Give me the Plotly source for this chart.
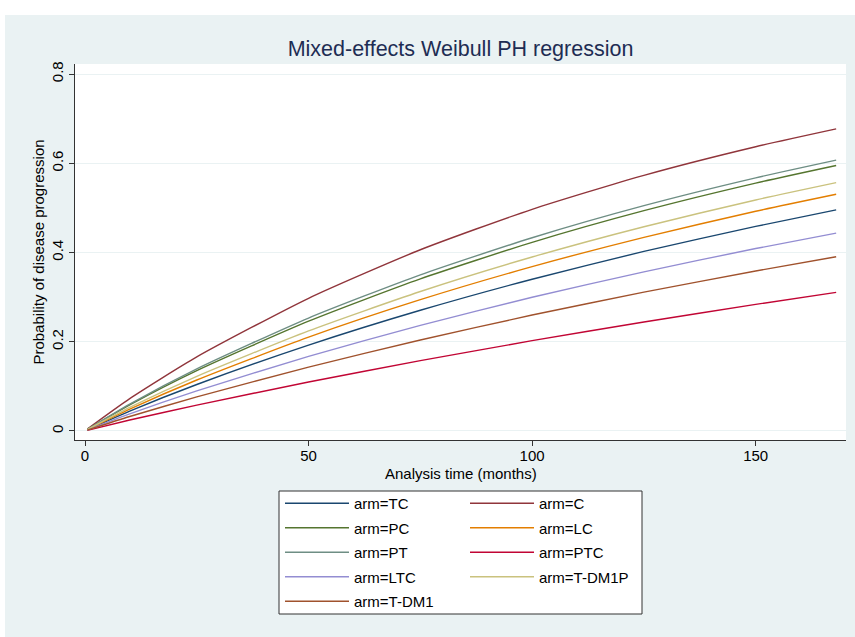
import plotly.graph_objects as go

# Analysis time (months) at which curve values were read
times = [0.5, 10, 25, 50, 75, 100, 125, 150, 168]

# Probability of disease progression, read per arm
arm_TC = [0.0026, 0.0446, 0.1041, 0.1924, 0.2705, 0.3401, 0.4025, 0.4585, 0.4954]
arm_C = [0.0042, 0.0725, 0.1660, 0.2974, 0.4061, 0.4968, 0.5729, 0.6370, 0.6770]
arm_PC = [0.0034, 0.0584, 0.1352, 0.2460, 0.3408, 0.4227, 0.4937, 0.5555, 0.5950]
arm_LC = [0.0028, 0.0491, 0.1143, 0.2104, 0.2943, 0.3683, 0.4340, 0.4924, 0.5305]
arm_PT = [0.0035, 0.0603, 0.1393, 0.2531, 0.3499, 0.4331, 0.5050, 0.5673, 0.6070]
arm_PTC = [0.0014, 0.0245, 0.0580, 0.1097, 0.1576, 0.2024, 0.2443, 0.2837, 0.3107]
arm_LTC = [0.0022, 0.0383, 0.0898, 0.1673, 0.2368, 0.2996, 0.3567, 0.4088, 0.4434]
arm_TDM1P = [0.0030, 0.0527, 0.1224, 0.2243, 0.3126, 0.3899, 0.4578, 0.5177, 0.5565]
arm_TDM1 = [0.0019, 0.0325, 0.0764, 0.1432, 0.2040, 0.2598, 0.3111, 0.3585, 0.3904]

arm_names = ["arm=TC", "arm=C", "arm=PC", "arm=LC", "arm=PT", "arm=PTC",
             "arm=LTC", "arm=T-DM1P", "arm=T-DM1"]
arm_values = [arm_TC, arm_C, arm_PC, arm_LC, arm_PT, arm_PTC, arm_LTC, arm_TDM1P, arm_TDM1]
arm_colors = ["#1a476f", "#90353b", "#55752f", "#e37e00", "#6e8e84", "#c10534",
              "#938dd2", "#cac27e", "#a0522d"]

x_ticks = [0, 50, 100, 150]
y_ticks = [0, 0.2, 0.4, 0.6, 0.8]
y_ticklabels = ["0", "0.2", "0.4", "0.6", "0.8"]

FONT = "Liberation Sans, Arial, sans-serif"
BG = "#EAF2F3"

fig = go.Figure()
for i, (name, vals, col) in enumerate(zip(arm_names, arm_values, arm_colors)):
    fig.add_trace(go.Scatter(
        x=times, y=vals, mode="lines", name=name,
        line=dict(color=col, width=1.4, shape="spline", smoothing=0.6),
        legend="legend" if i % 2 == 0 else "legend2",
        legendgroup=name, showlegend=True,
    ))

W, H = 855, 637
L, R, T, B = 75, 9, 64, 197
pw, ph = W - L - R, H - T - B


def px(xp):
    return (xp - L) / pw


def py(yp):
    return (H - B - yp) / ph


legend_common = dict(
    orientation="v", xanchor="left", yanchor="top",
    bgcolor="rgba(0,0,0,0)", borderwidth=0,
    font=dict(family=FONT, size=15, color="#000000"),
    itemwidth=64, tracegroupgap=2, traceorder="grouped",
)

fig.update_layout(
    width=W, height=H,
    margin=dict(l=L, r=R, t=T, b=B),
    paper_bgcolor=BG, plot_bgcolor="#FFFFFF",
    title=dict(text="Mixed-effects Weibull PH regression", xref="paper", x=0.5,
               xanchor="center", y=1 - 48 / H, yanchor="middle",
               font=dict(family=FONT, size=21.5, color="#1e2d53")),
    xaxis=dict(range=[-2.24, 170.2], tickvals=x_ticks, ticks="outside", ticklen=5,
               tickcolor="#333333", showline=True, linecolor="#333333", linewidth=1,
               showgrid=False, zeroline=False, ticklabelstandoff=-3,
               tickfont=dict(family=FONT, size=15, color="#000000")),
    yaxis=dict(range=[-0.0202, 0.8224], tickvals=y_ticks, ticktext=y_ticklabels,
               tickangle=-90, ticks="outside", ticklen=5,
               tickcolor="#333333", showline=True, linecolor="#333333", linewidth=1,
               showgrid=True, gridcolor=BG, gridwidth=1, zeroline=False,
               tickfont=dict(family=FONT, size=15, color="#000000"),
               title=dict(text="Probability of disease progression", standoff=0,
                          font=dict(family=FONT, size=15, color="#000000"))),
    annotations=[
        dict(text="Analysis time (months)", xref="paper", yref="paper",
             x=0.5, y=py(473), xanchor="center", yanchor="middle", showarrow=False,
             font=dict(family=FONT, size=15, color="#000000")),
    ],
    legend=dict(x=px(280), y=py(487), **legend_common),
    legend2=dict(x=px(465), y=py(487), **legend_common),
    shapes=[
        dict(type="rect", xref="paper", yref="paper", x0=px(279), x1=px(642),
             y0=py(614), y1=py(491), line=dict(color="#333333", width=1),
             fillcolor="#FFFFFF", layer="below"),
        dict(type="rect", xref="paper", yref="paper", x0=px(0), x1=px(W),
             y0=py(15), y1=py(0), line=dict(width=0), fillcolor="#FFFFFF", layer="below"),
        dict(type="rect", xref="paper", yref="paper", x0=px(0), x1=px(5),
             y0=py(H), y1=py(0), line=dict(width=0), fillcolor="#FFFFFF", layer="below"),
    ],
)

fig.write_html("out.html", config={"displayModeBar": False},
               post_script="document.body.style.margin='0';")
